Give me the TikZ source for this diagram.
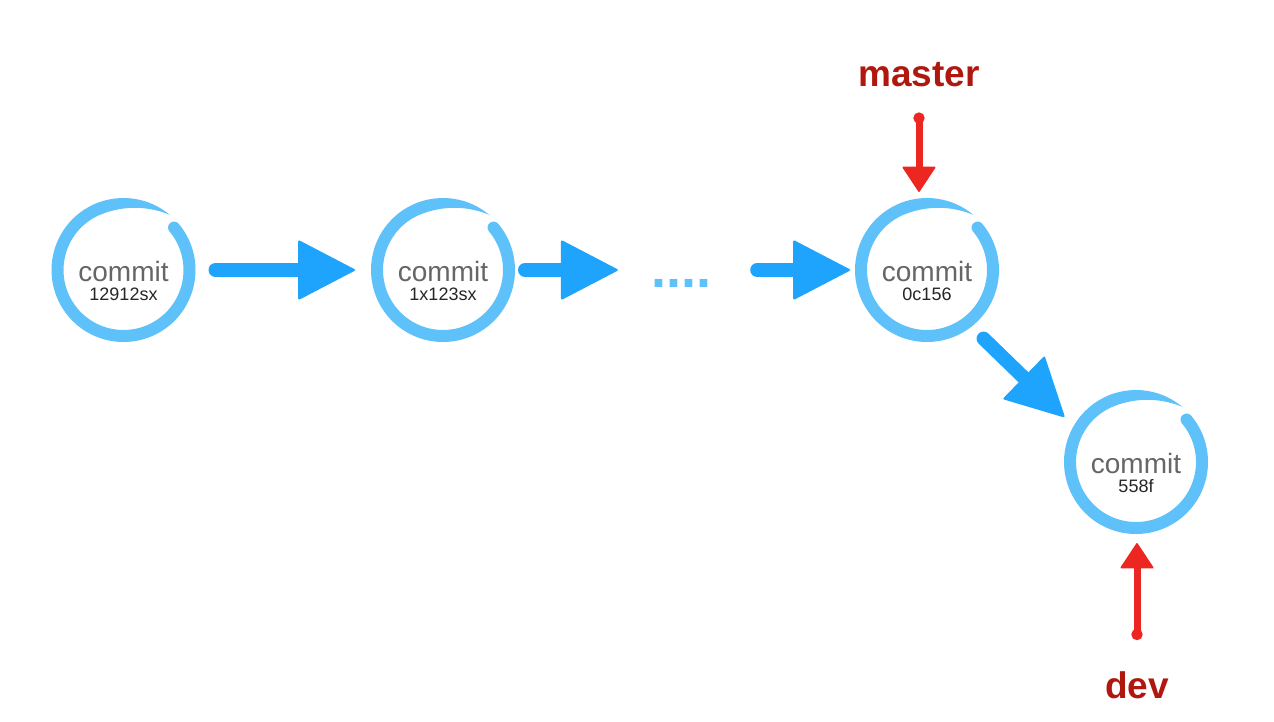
\documentclass[tikz,border=0pt]{standalone}
\usepackage{fontspec}
\setmainfont{Liberation Sans}
\usetikzlibrary{arrows.meta,calc}
\definecolor{ringblue}{HTML}{5EC1F9}
\definecolor{arrowblue}{HTML}{1EA4FC}
\definecolor{redarrow}{HTML}{EC2722}
\definecolor{labelred}{HTML}{B0180F}
\definecolor{commitgray}{HTML}{666666}
\newcommand\commitring[1]{%
  \begin{scope}[shift={(#1.center)}]
    \draw[ringblue, line width=12pt, line cap=round] (40:66) arc[start angle=40, end angle=-249, radius=66];
    \fill[ringblue] (111.5:72) arc[start angle=111.5, end angle=50, radius=72]
      -- plot[domain=50:111.5, samples=40] ({(60+12*((111.5-\x)/61.5)^2)*cos(\x)}, {(60+12*((111.5-\x)/61.5)^2)*sin(\x)}) -- cycle;
  \end{scope}
}
\tikzset{
  commit/.style={circle, minimum size=144pt, inner sep=0pt, outer sep=0pt},
  ctext/.style={anchor=base, inner sep=0pt, text=commitgray, font=\fontsize{28}{30}\selectfont},
  ntext/.style={anchor=base, inner sep=0pt, text=black!85, font=\fontsize{18}{20}\selectfont},
  blueconn/.style={arrowblue, line width=14pt, line cap=round,
    -{Triangle[length=58pt, width=60pt, line width'=2pt, round]}},
  redconn/.style={redarrow, line width=7pt,
    {Circle[length=11pt]}-{Triangle[length=26pt, width=34pt, line width'=1.5pt, round]}},
  branch/.style={inner sep=0pt, text=labelred, font=\fontsize{37}{40}\selectfont\bfseries},
}
\begin{document}
\begin{tikzpicture}[x=1pt, y=1pt]
  \fill[white] (0,0) rectangle (1274,-722);
  \useasboundingbox (0,0) rectangle (1274,-722);

  \node[commit] (c1) at (123.5,-270) {};
  \node[commit] (c2) at (443,-270) {};
  \node[commit] (c3) at (927,-270) {};
  \node[commit] (c4) at (1136,-462) {};
  \commitring{c1}
  \commitring{c2}
  \commitring{c3}
  \commitring{c4}

  \node[ctext] (t1) at ([yshift=-11pt]c1.center) {commit};
  \node[ntext] (n1) at ([yshift=-30pt]c1.center) {12912sx};
  \node[ctext] (t2) at ([yshift=-11pt]c2.center) {commit};
  \node[ntext] (n2) at ([yshift=-30pt]c2.center) {1x123sx};
  \node[ctext] (t3) at ([yshift=-11pt]c3.center) {commit};
  \node[ntext] (n3) at ([yshift=-30pt]c3.center) {0c156};
  \node[ctext] (t4) at ([yshift=-11pt]c4.center) {commit};
  \node[ntext] (n4) at ([yshift=-30pt]c4.center) {558f};

  \node[anchor=base, inner sep=0pt, text=ringblue, font=\fontsize{54}{56}\selectfont\bfseries] (dots) at (681,-287) {....};

  \draw[blueconn, shorten <=20pt, shorten >=16pt] (c1) -- (c2);
  \draw[blueconn, shorten <=10pt, shorten >=33pt] (c2.east) -- (dots.west |- c2.east);
  \draw[blueconn, shorten <=46pt, shorten >=5pt] (dots.east |- c3.west) -- (c3.west);
  \draw[blueconn, shorten <=17pt, shorten >=13pt] (c3.-52) -- (c4.150);

  \node[branch, anchor=base] (master) at (919,-87) {master};
  \node[branch, anchor=base] (dev) at (1137,-698) {dev};

  \draw[redconn, shorten <=25pt, shorten >=6pt] (master.south) -- (master.south |- c3.north);
  \draw[redconn, shorten <=31pt, shorten >=9pt] (dev.north) -- (dev.north |- c4.south);
\end{tikzpicture}
\end{document}
